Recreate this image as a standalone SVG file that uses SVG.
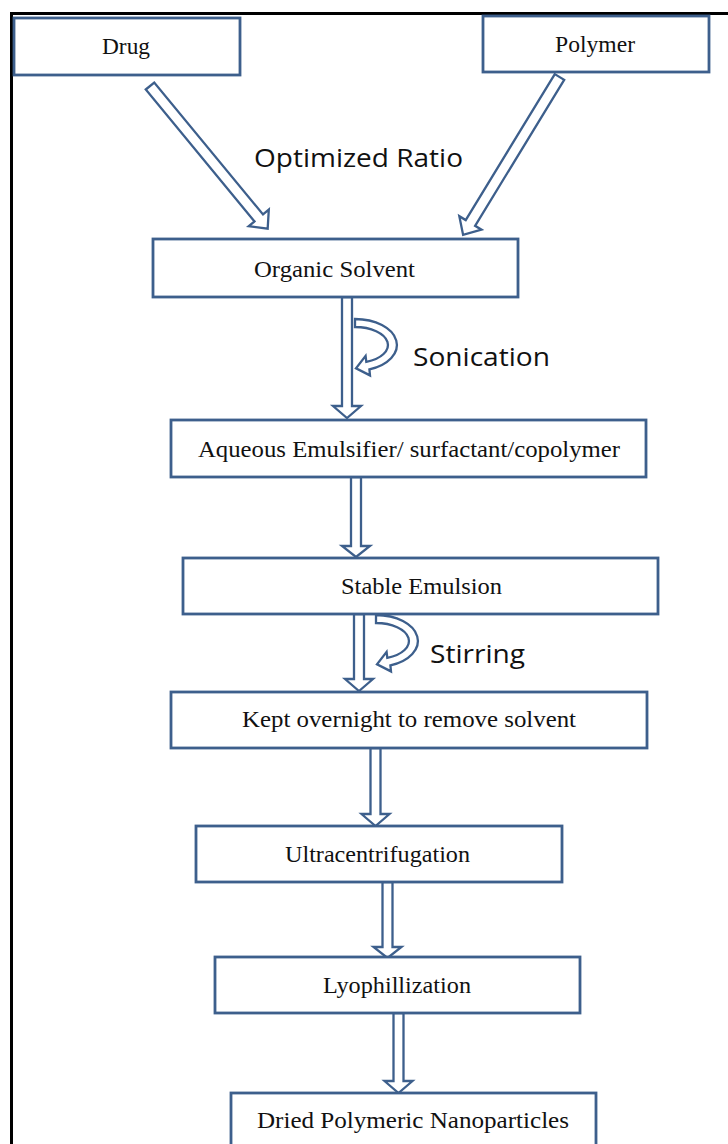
<svg xmlns="http://www.w3.org/2000/svg" xmlns:xlink="http://www.w3.org/1999/xlink" width="728" height="1144" viewBox="0 0 728 1144">
<style>
.box{fill:#fff;stroke:#3d5f8c;stroke-width:2.8}
.arr{fill:#fff;stroke:#3d5f8c;stroke-width:2.3;stroke-linejoin:miter}
.t{font-family:"Liberation Serif","Times New Roman",serif;font-size:23px;fill:#111;text-anchor:middle}
.s{font-family:"Open Sans","Liberation Sans",sans-serif;font-size:25px;fill:#111}
</style>
<defs>
<path id="curl" d="M0 0 A42 26 0 0 1 14.4 50.4 L15 56.4 L1 49.3 L10.6 36.9 L11.3 42.9 A33 18 0 0 0 0 8 Z"/>
</defs>
<rect x="0" y="0" width="728" height="1144" fill="#fff"/>
<path d="M11.5 1144 V13.5 H728" fill="none" stroke="#000" stroke-width="3"/>

<g id="connectors">
<g id="arrow-drug" transform="translate(150,86) rotate(-39.5)"><polygon class="arr" points="-5.5,0 5.5,0 5.5,171 13,171 0,185 -13,171 -5.5,171"/></g>
<g id="arrow-polymer" transform="translate(559.5,77) rotate(31.4)"><polygon class="arr" points="-5.5,0 5.5,0 5.5,171 13,171 0,185 -13,171 -5.5,171"/></g>
<polygon class="arr" points="342,297 352,297 352,406 361,406 347,418 333,406 342,406"/>
<polygon class="arr" points="351,477 361,477 361,546 370,546 356,557 342,546 351,546"/>
<polygon class="arr" points="354,614 364,614 364,679 373,679 359,691 345,679 354,679"/>
<polygon class="arr" points="370.5,748 380.5,748 380.5,814 389.5,814 375.5,826 361.5,814 370.5,814"/>
<polygon class="arr" points="382.5,882 392.5,882 392.5,947 401.5,947 387.5,958 373.5,947 382.5,947"/>
<polygon class="arr" points="393.5,1013 403.5,1013 403.5,1081 412.5,1081 398.5,1093 384.5,1081 393.5,1081"/>
<use xlink:href="#curl" class="arr" transform="translate(355,319)"/>
<use xlink:href="#curl" class="arr" transform="translate(376,615)"/>
</g>

<g id="label-ratio"><text class="s" x="254" y="167" textLength="209" lengthAdjust="spacingAndGlyphs">Optimized Ratio</text></g>
<g id="label-sonication"><text class="s" x="413" y="366" textLength="137" lengthAdjust="spacingAndGlyphs">Sonication</text></g>
<g id="label-stirring"><text class="s" x="430" y="663" textLength="95" lengthAdjust="spacingAndGlyphs">Stirring</text></g>

<g id="node-drug"><rect class="box" x="14" y="18" width="226" height="57"/><text class="t" x="126" y="54" textLength="48" lengthAdjust="spacingAndGlyphs">Drug</text></g>
<g id="node-polymer"><rect class="box" x="483" y="16" width="226" height="56"/><text class="t" x="595" y="52" textLength="80" lengthAdjust="spacingAndGlyphs">Polymer</text></g>
<g id="node-organic"><rect class="box" x="153" y="239" width="365" height="58"/><text class="t" x="334.5" y="277" textLength="161" lengthAdjust="spacingAndGlyphs">Organic Solvent</text></g>
<g id="node-aqueous"><rect class="box" x="171" y="420" width="475" height="57"/><text class="t" x="409" y="457" textLength="422" lengthAdjust="spacingAndGlyphs">Aqueous Emulsifier/ surfactant/copolymer</text></g>
<g id="node-stable"><rect class="box" x="183" y="558" width="475" height="56"/><text class="t" x="421.5" y="594" textLength="161" lengthAdjust="spacingAndGlyphs">Stable Emulsion</text></g>
<g id="node-kept"><rect class="box" x="171" y="692" width="476" height="56"/><text class="t" x="409" y="727" textLength="334" lengthAdjust="spacingAndGlyphs">Kept overnight to remove solvent</text></g>
<g id="node-ultra"><rect class="box" x="196" y="826" width="366" height="56"/><text class="t" x="377.5" y="862" textLength="185" lengthAdjust="spacingAndGlyphs">Ultracentrifugation</text></g>
<g id="node-lyo"><rect class="box" x="215" y="957" width="365" height="56"/><text class="t" x="397" y="993" textLength="148" lengthAdjust="spacingAndGlyphs">Lyophillization</text></g>
<g id="node-dried"><rect class="box" x="231" y="1093" width="365" height="70"/><text class="t" x="413" y="1128" textLength="312" lengthAdjust="spacingAndGlyphs">Dried Polymeric Nanoparticles</text></g>
</svg>
